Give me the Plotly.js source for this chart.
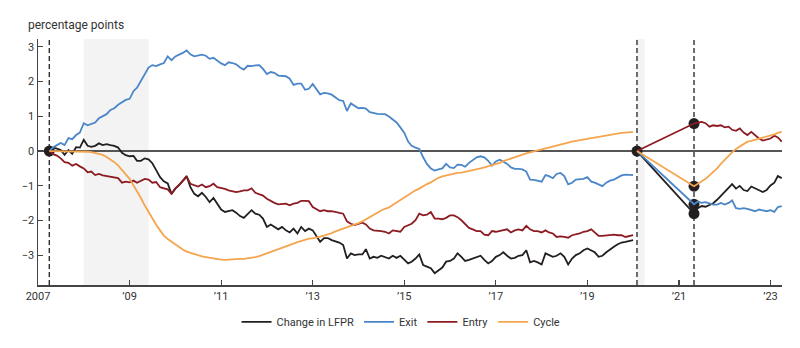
<!DOCTYPE html>
<html><head><meta charset="utf-8">
<script src="https://cdn.plot.ly/plotly-3.0.1.min.js"></script>
<style>html,body{margin:0;padding:0;background:#fff}#chart{width:800px;height:348px}</style>
</head><body><div id="chart"></div>
<script>
// ---- data ----
const seriesNames = ['Change in LFPR', 'Exit', 'Entry', 'Cycle'];

// Segment 1: monthly, April 2007 .. January 2020
const start1 = [2007, 4];
const lfpr1 = [0, 0.10, 0.07, 0.03, -0.11, 0.03, -0.08, 0.11, 0.10, 0.32,
  0.15, 0.12, 0.15, 0.22, 0.17, 0.20, 0.17, 0.15, 0.10, -0.05,
  -0.12, -0.15, -0.14, -0.28, -0.28, -0.21, -0.24, -0.35, -0.55, -0.75,
  -0.87, -0.93, -1.23, -1.08, -0.97, -0.85, -0.72, -1.04, -1.23, -1.30,
  -1.20, -1.32, -1.47, -1.35, -1.51, -1.68, -1.75, -1.73, -1.70, -1.77,
  -1.87, -1.92, -1.80, -1.70, -1.80, -1.83, -1.94, -2.18, -2.11, -2.18,
  -2.25, -2.18, -2.28, -2.34, -2.23, -2.37, -2.18, -2.30, -2.23, -2.28,
  -2.47, -2.61, -2.50, -2.50, -2.56, -2.59, -2.63, -2.70, -3.09, -2.94,
  -2.99, -2.97, -2.97, -2.82, -3.09, -3.04, -3.07, -3.01, -3.04, -3.09,
  -3.01, -3.07, -3.01, -3.13, -3.23, -3.18, -3.09, -2.97, -3.28, -3.32,
  -3.37, -3.51, -3.42, -3.35, -3.18, -3.16, -3.09, -2.94, -3.04, -3.16,
  -3.13, -3.09, -3.04, -3.01, -3.13, -3.23, -3.16, -3.04, -2.99, -2.91,
  -3.01, -3.09, -3.07, -3.01, -2.99, -2.85, -3.20, -3.16, -3.20, -3.26,
  -2.94, -2.99, -3.04, -3.01, -2.94, -3.04, -3.26, -3.09, -2.99, -2.94,
  -2.85, -2.80, -2.85, -2.91, -3.04, -3.01, -2.91, -2.82, -2.75, -2.68,
  -2.63, -2.61, -2.59, -2.56];
const exit1 = [0, 0.10, 0.17, 0.23, 0.17, 0.37, 0.34, 0.46, 0.53, 0.80,
  0.74, 0.79, 0.82, 0.94, 0.99, 1.06, 1.18, 1.23, 1.33, 1.41,
  1.47, 1.50, 1.72, 1.82, 2.01, 2.20, 2.40, 2.47, 2.44, 2.49,
  2.53, 2.72, 2.61, 2.72, 2.77, 2.82, 2.89, 2.78, 2.72, 2.74,
  2.77, 2.74, 2.65, 2.68, 2.60, 2.52, 2.47, 2.55, 2.53, 2.49,
  2.40, 2.34, 2.45, 2.44, 2.46, 2.47, 2.36, 2.21, 2.27, 2.25,
  2.17, 2.15, 2.15, 2.08, 1.90, 1.94, 1.94, 1.76, 1.79, 1.93,
  1.77, 1.63, 1.67, 1.66, 1.62, 1.53, 1.46, 1.44, 1.15, 1.37,
  1.31, 1.23, 1.24, 1.22, 1.12, 1.09, 1.07, 1.06, 1.06, 0.99,
  0.91, 0.82, 0.68, 0.53, 0.27, 0.15, 0.10, 0.06, -0.18, -0.37,
  -0.50, -0.56, -0.53, -0.50, -0.37, -0.47, -0.49, -0.39, -0.40, -0.45,
  -0.34, -0.25, -0.18, -0.15, -0.18, -0.28, -0.42, -0.30, -0.25, -0.30,
  -0.37, -0.47, -0.51, -0.51, -0.53, -0.59, -0.82, -0.83, -0.85, -0.88,
  -0.69, -0.72, -0.78, -0.66, -0.63, -0.72, -0.96, -0.91, -0.82, -0.82,
  -0.80, -0.75, -0.88, -0.91, -0.97, -1.01, -0.91, -0.85, -0.82, -0.75,
  -0.70, -0.68, -0.69, -0.69];
const entry1 = [0, -0.09, -0.13, -0.21, -0.32, -0.34, -0.42, -0.37, -0.44, -0.50,
  -0.61, -0.59, -0.69, -0.66, -0.70, -0.72, -0.75, -0.78, -0.78, -0.91,
  -0.88, -0.90, -0.85, -0.91, -0.85, -0.80, -0.82, -0.91, -0.89, -1.04,
  -1.07, -1.10, -1.23, -1.07, -0.97, -0.85, -0.74, -0.94, -0.99, -1.02,
  -0.96, -1.04, -1.01, -0.94, -1.04, -1.06, -1.09, -1.13, -1.16, -1.18,
  -1.16, -1.13, -1.13, -1.07, -1.20, -1.23, -1.28, -1.37, -1.44, -1.49,
  -1.53, -1.52, -1.51, -1.56, -1.51, -1.49, -1.43, -1.43, -1.44, -1.61,
  -1.68, -1.73, -1.70, -1.73, -1.73, -1.75, -1.77, -1.80, -2.02, -2.09,
  -2.13, -2.10, -2.06, -2.11, -2.23, -2.28, -2.28, -2.30, -2.32, -2.37,
  -2.28, -2.30, -2.32, -2.18, -2.13, -2.09, -1.99, -1.80, -1.85, -1.83,
  -1.75, -1.94, -1.94, -1.96, -1.92, -1.85, -1.85, -1.90, -1.99, -2.11,
  -2.21, -2.25, -2.30, -2.30, -2.40, -2.42, -2.30, -2.32, -2.30, -2.28,
  -2.25, -2.34, -2.28, -2.25, -2.28, -2.15, -2.25, -2.30, -2.30, -2.34,
  -2.28, -2.34, -2.37, -2.47, -2.45, -2.47, -2.49, -2.42, -2.40, -2.37,
  -2.32, -2.30, -2.25, -2.34, -2.44, -2.44, -2.42, -2.40, -2.40, -2.42,
  -2.42, -2.47, -2.44, -2.42];
const cycle1 = [0, 0, 0, 0, 0, 0, 0, 0, -0.01, -0.01,
  -0.02, -0.03, -0.05, -0.08, -0.11, -0.17, -0.24, -0.32, -0.41, -0.53,
  -0.67, -0.80, -0.98, -1.14, -1.35, -1.56, -1.76, -1.95, -2.12, -2.28,
  -2.43, -2.53, -2.61, -2.68, -2.76, -2.83, -2.89, -2.93, -2.97, -3.00,
  -3.03, -3.05, -3.07, -3.09, -3.11, -3.12, -3.13, -3.12, -3.12, -3.11,
  -3.10, -3.10, -3.09, -3.07, -3.05, -3.02, -2.98, -2.94, -2.89, -2.85,
  -2.80, -2.76, -2.72, -2.69, -2.66, -2.62, -2.58, -2.55, -2.52, -2.51,
  -2.49, -2.46, -2.43, -2.40, -2.36, -2.31, -2.27, -2.24, -2.20, -2.17,
  -2.12, -2.07, -2.02, -1.96, -1.90, -1.84, -1.77, -1.71, -1.66, -1.62,
  -1.55, -1.48, -1.40, -1.33, -1.26, -1.19, -1.13, -1.08, -1.01, -0.95,
  -0.90, -0.83, -0.77, -0.73, -0.70, -0.67, -0.65, -0.63, -0.62, -0.60,
  -0.58, -0.55, -0.52, -0.50, -0.47, -0.44, -0.41, -0.38, -0.34, -0.29,
  -0.25, -0.21, -0.17, -0.13, -0.10, -0.07, -0.04, -0.01, 0.02, 0.05,
  0.08, 0.11, 0.14, 0.17, 0.19, 0.22, 0.25, 0.27, 0.29, 0.31,
  0.34, 0.36, 0.38, 0.40, 0.42, 0.44, 0.46, 0.48, 0.49, 0.50,
  0.52, 0.53, 0.54, 0.55];

// Segment 2: February 2020 baseline, then monthly May 2021 .. April 2023
const baseline2 = '2020-02-01';
const start2 = [2021, 5];
const lfpr2 = [0, -1.80, -1.64, -1.58, -1.60, -1.56, -1.50, -1.40, -1.28, -1.18, -1.06, -0.95, -1.08,
  -1.00, -1.12, -1.15, -1.02, -1.08, -1.12, -1.18, -1.12, -0.99, -0.91, -0.72, -0.78];
const exit2 = [0, -1.53, -1.45, -1.49, -1.47, -1.51, -1.54, -1.54, -1.49, -1.54, -1.49, -1.42, -1.64,
  -1.66, -1.64, -1.66, -1.70, -1.73, -1.68, -1.70, -1.73, -1.70, -1.75, -1.61, -1.58];
const entry2 = [0, 0.79, 0.82, 0.84, 0.80, 0.70, 0.74, 0.72, 0.74, 0.68, 0.70, 0.61, 0.58,
  0.65, 0.53, 0.46, 0.55, 0.46, 0.36, 0.30, 0.34, 0.36, 0.44, 0.39, 0.27];
const cycle2 = [0, -1.01, -0.94, -0.88, -0.80, -0.70, -0.61, -0.50, -0.37, -0.25, -0.13, -0.04, 0.06,
  0.13, 0.20, 0.27, 0.29, 0.32, 0.35, 0.38, 0.42, 0.45, 0.48, 0.52, 0.55];

// Recessions (NBER)
const recessions = [['2008-01-01', '2009-06-01'], ['2020-02-01', '2020-04-01']];

// x-axis ticks
const tickDates = ['2007-01-01', '2009-01-01', '2011-01-01', '2013-01-01', '2015-01-01', '2017-01-01', '2019-01-01', '2021-01-01', '2023-01-01'];
const tickLabels = ['2007', '\u201909', '\u201911', '\u201913', '\u201915', '\u201917', '\u201919', '\u201921', '\u201923'];
const yTicks = [-3, -2, -1, 0, 1, 2, 3];

// ---- build ----
function monthSeq(y, m, n) {
  const out = [];
  for (let i = 0; i < n; i++) {
    const mm = (m - 1 + i) % 12 + 1;
    const yy = y + Math.floor((m - 1 + i) / 12);
    out.push(yy + '-' + String(mm).padStart(2, '0') + '-01');
  }
  return out;
}
const dates1 = monthSeq(start1[0], start1[1], lfpr1.length);
const dates2 = [baseline2].concat(monthSeq(start2[0], start2[1], lfpr2.length - 1));

const colors = ['#231f20', '#4a86c8', '#8c1b22', '#f4a54e'];
const seg1 = [lfpr1, exit1, entry1, cycle1];
const seg2 = [lfpr2, exit2, entry2, cycle2];

const traces = [];
// event dots (drawn beneath lines)
traces.push({
  type: 'scatter', mode: 'markers', showlegend: false, hoverinfo: 'skip',
  x: [dates1[0], dates2[0], dates2[1], dates2[1], dates2[1], dates2[1]],
  y: [lfpr1[0], lfpr2[0], lfpr2[1], exit2[1], entry2[1], cycle2[1]],
  marker: {color: '#231f20', size: 11, line: {width: 0}}
});
for (let i = 0; i < 4; i++) {
  traces.push({
    type: 'scatter', mode: 'lines', name: seriesNames[i], legendgroup: 'g' + i,
    x: dates1, y: seg1[i], line: {color: colors[i], width: 1.8}
  });
}
for (let i = 0; i < 4; i++) {
  traces.push({
    type: 'scatter', mode: 'lines', name: seriesNames[i], legendgroup: 'g' + i, showlegend: false,
    x: dates2, y: seg2[i], line: {color: colors[i], width: 1.8}
  });
}

const shapes = [];
recessions.forEach(r => shapes.push({
  type: 'rect', xref: 'x', yref: 'paper', x0: r[0], x1: r[1], y0: 0, y1: 1,
  fillcolor: '#f3f3f3', line: {width: 0}, layer: 'below'
}));
[dates1[0], dates2[0], dates2[1]].forEach(d => shapes.push({
  type: 'line', xref: 'x', yref: 'paper', x0: d, x1: d, y0: 0, y1: 1,
  line: {color: '#231f20', width: 1.3, dash: '5px,3px'}, layer: 'below'
}));

const font = {family: 'Roboto, Arial, sans-serif', size: 11, color: '#333'};
const layout = {
  width: 800, height: 348,
  margin: {l: 38, r: 18, t: 39, b: 61},
  paper_bgcolor: '#fff', plot_bgcolor: 'rgba(0,0,0,0)',
  font: font,
  title: {text: 'percentage points', font: {family: font.family, size: 12, color: '#333'},
    xref: 'container', yref: 'container', x: 0.035, xanchor: 'left', y: 0.93, yanchor: 'middle'},
  xaxis: {
    type: 'date', range: ['2007-01-01', '2023-04-03'],
    tickvals: tickDates, ticktext: tickLabels,
    showgrid: false, zeroline: false,
    showline: true, linecolor: '#444', linewidth: 1.5,
    ticks: 'inside', ticklen: 5, tickcolor: '#444', tickwidth: 1.2,
    tickfont: font
  },
  yaxis: {
    range: [-3.85, 3.22], tickvals: yTicks,
    showgrid: false, zeroline: true, zerolinecolor: '#555', zerolinewidth: 1.6,
    showline: true, linecolor: '#444', linewidth: 1.5,
    ticks: 'inside', ticklen: 5, tickcolor: '#444', tickwidth: 1.2,
    tickfont: font
  },
  showlegend: true,
  legend: {orientation: 'h', x: 0.488, xanchor: 'center', y: -0.15, yanchor: 'middle',
    font: font, traceorder: 'normal'},
  shapes: shapes
};
Plotly.newPlot('chart', traces, layout, {displayModeBar: false, staticPlot: true});
</script>
</body></html>
